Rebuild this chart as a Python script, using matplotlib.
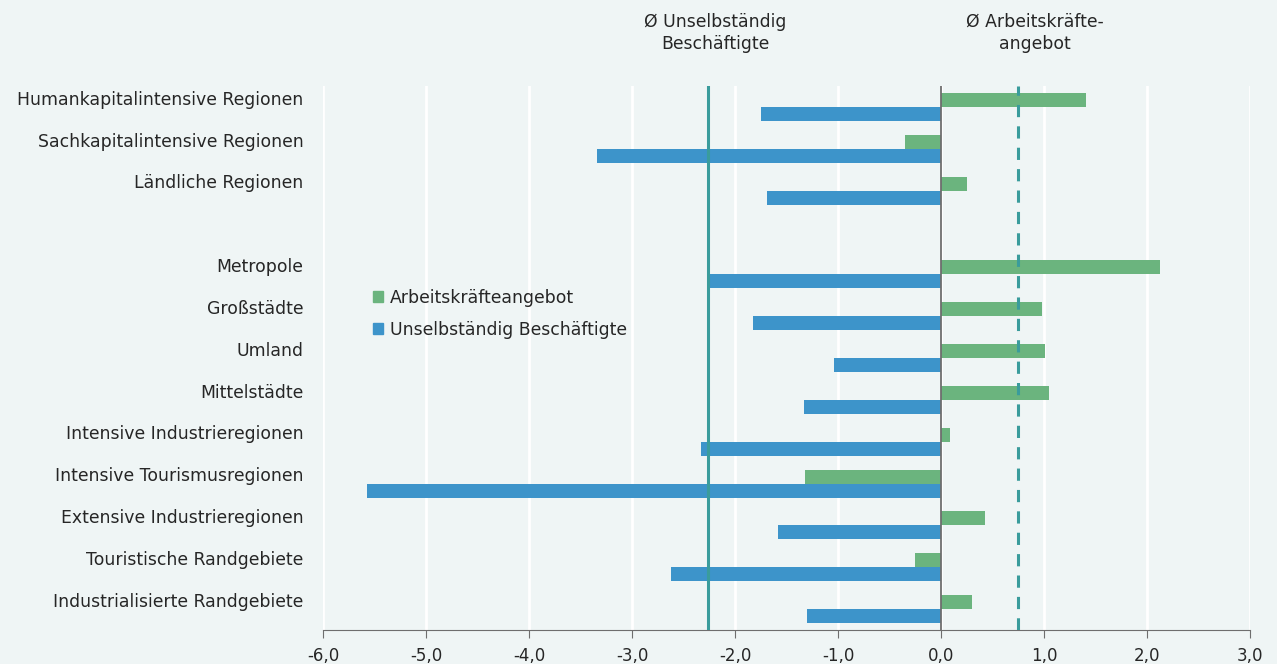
import matplotlib
matplotlib.use("Agg")
import matplotlib.pyplot as plt
from matplotlib.patches import Patch
import numpy as np

plt.rcParams['font.family'] = ['DejaVu Sans']

categories = [
    "Humankapitalintensive Regionen",
    "Sachkapitalintensive Regionen",
    "Ländliche Regionen",
    "",
    "Metropole",
    "Großstädte",
    "Umland",
    "Mittelstädte",
    "Intensive Industrieregionen",
    "Intensive Tourismusregionen",
    "Extensive Industrieregionen",
    "Touristische Randgebiete",
    "Industrialisierte Randgebiete",
]
arbeitskraefte = [1.41, -0.35, 0.25, None, 2.13, 0.98, 1.01, 1.05, 0.09, -1.32, 0.43, -0.25, 0.30]
beschaeftigte = [-1.75, -3.34, -1.69, None, -2.26, -1.83, -1.04, -1.33, -2.33, -5.57, -1.58, -2.62, -1.30]
avg_beschaeftigte = -2.26
avg_arbeitskraefte = 0.75
xticks = [-6, -5, -4, -3, -2, -1, 0, 1, 2, 3]
xticklabels = ["-6,0", "-5,0", "-4,0", "-3,0", "-2,0", "-1,0", "0,0", "1,0", "2,0", "3,0"]

bg = "#EFF5F5"
green = "#6BB47E"
blue = "#3D94CA"
teal = "#3A9C9C"
txt = "#262626"

fig = plt.figure(figsize=(12.77, 6.64), dpi=100, facecolor=bg)
ax = fig.add_axes([323/1277, 1 - 630/664, (1250-323)/1277, (630-86)/664])
ax.set_facecolor(bg)

n = len(categories)
y = np.arange(n)
h = 0.335
for i in range(n):
    if arbeitskraefte[i] is None:
        continue
    ax.barh(y[i] - h/2, arbeitskraefte[i], height=h, color=green, zorder=3)
    ax.barh(y[i] + h/2, beschaeftigte[i], height=h, color=blue, zorder=3)

ax.set_ylim(n - 0.5, -0.5)
ax.set_xlim(-6, 3)
ax.set_xticks(xticks)
ax.set_xticklabels(xticklabels, fontsize=12, color=txt)
ax.grid(axis='x', color='white', linewidth=2, zorder=0)
ax.set_axisbelow(True)

ax.axvline(0, color='#6E6E6E', linewidth=1.3, zorder=4)
ax.axvline(avg_beschaeftigte, color=teal, linewidth=2.2, zorder=5)
ax.axvline(avg_arbeitskraefte, color=teal, linewidth=2.2, linestyle=(0, (4, 3)), zorder=5)

# category labels sit slightly above the bar pair centre
ax.set_yticks(y - 0.22)
ax.set_yticklabels(categories, fontsize=12.4, color=txt)
ax.tick_params(axis='y', length=0, pad=14)
ax.tick_params(axis='x', length=6, color='#6E6E6E', direction='out', pad=6)

for s in ['top', 'right', 'left']:
    ax.spines[s].set_visible(False)
ax.spines['bottom'].set_color('#6E6E6E')

ax.text(-2.19, (630-33)/544, "Ø Unselbständig\nBeschäftigte", transform=ax.get_xaxis_transform(),
        ha='center', va='center', fontsize=12.4, color=txt, linespacing=1.3)
ax.text(0.91, (630-33)/544, "Ø Arbeitskräfte-\nangebot", transform=ax.get_xaxis_transform(),
        ha='center', va='center', fontsize=12.4, color=txt, linespacing=1.3)

handles = [Patch(color=green, label="Arbeitskräfteangebot"),
           Patch(color=blue, label="Unselbständig Beschäftigte")]
leg = ax.legend(handles=handles, loc='upper left', bbox_to_anchor=(43/927, (630-282)/544),
                frameon=False, fontsize=12.4, handlelength=0.6, handleheight=0.6,
                handletextpad=0.4, labelspacing=0.8, borderaxespad=0)
for t in leg.get_texts():
    t.set_color(txt)

fig.savefig("out.png", dpi=100, facecolor=bg)
